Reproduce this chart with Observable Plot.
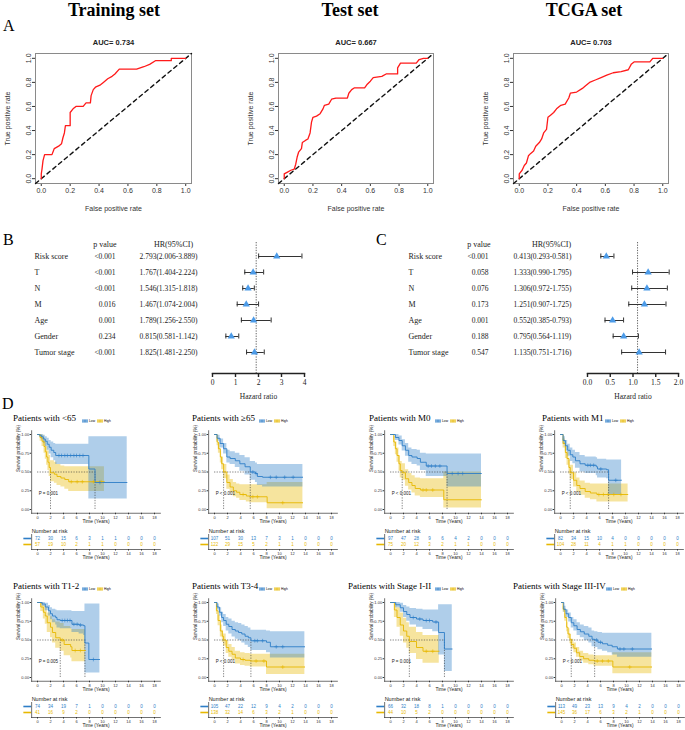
<!DOCTYPE html>
<html><head><meta charset="utf-8">
<script src="https://cdn.jsdelivr.net/npm/d3@7"></script>
<script src="https://cdn.jsdelivr.net/npm/@observablehq/plot@0.6"></script>
<style>
body{margin:0;background:#fff}
#fig{position:relative;width:685px;height:730px;overflow:hidden;background:#fff}
</style></head><body><div id="fig"></div>
<script>
// ================= DATA =================
// ROC curves: [false positive rate, true positive rate]
const rocTitles = ["Training set", "Test set", "TCGA set"];
const rocAUC = [0.734, 0.667, 0.703];
const rocTicks = [0, 0.2, 0.4, 0.6, 0.8, 1];
const rocTraining = [[0,0],[0,0.04],[0.005,0.08],[0.012,0.15],[0.023,0.2],[0.074,0.2],[0.09,0.25],[0.12,0.27],[0.14,0.29],[0.15,0.34],[0.16,0.38],[0.167,0.44],[0.2,0.44],[0.2,0.55],[0.22,0.58],[0.24,0.6],[0.29,0.6],[0.31,0.63],[0.34,0.63],[0.345,0.69],[0.36,0.74],[0.375,0.76],[0.41,0.78],[0.43,0.8],[0.46,0.83],[0.49,0.85],[0.51,0.87],[0.54,0.91],[0.66,0.91],[0.71,0.93],[0.75,0.95],[0.79,0.98],[0.9,0.98],[0.9,1],[1,1]];
const rocTest = [[0,0],[0,0.04],[0.023,0.055],[0.046,0.07],[0.07,0.08],[0.08,0.12],[0.09,0.18],[0.1,0.22],[0.12,0.25],[0.126,0.3],[0.15,0.32],[0.165,0.33],[0.18,0.38],[0.19,0.47],[0.2,0.51],[0.225,0.52],[0.25,0.54],[0.27,0.58],[0.28,0.61],[0.31,0.62],[0.33,0.66],[0.36,0.67],[0.44,0.67],[0.45,0.71],[0.47,0.74],[0.49,0.755],[0.56,0.755],[0.575,0.78],[0.6,0.81],[0.62,0.84],[0.68,0.85],[0.71,0.87],[0.79,0.87],[0.79,0.92],[0.81,0.96],[0.92,0.96],[0.94,0.99],[0.97,1],[1,1]];
const rocTCGA = [[0,0],[0,0.04],[0.02,0.07],[0.035,0.11],[0.05,0.13],[0.064,0.19],[0.08,0.21],[0.1,0.23],[0.115,0.27],[0.14,0.3],[0.156,0.33],[0.17,0.38],[0.19,0.41],[0.2,0.51],[0.22,0.53],[0.24,0.55],[0.26,0.58],[0.29,0.61],[0.32,0.62],[0.345,0.67],[0.356,0.71],[0.4,0.72],[0.44,0.75],[0.46,0.77],[0.49,0.8],[0.53,0.82],[0.57,0.84],[0.61,0.86],[0.655,0.88],[0.71,0.89],[0.76,0.905],[0.78,0.95],[0.8,0.97],[0.91,0.97],[0.93,1],[1,1]];

// Forest plots
const forestVars = ["Risk score", "T", "N", "M", "Age", "Gender", "Tumor stage"];
const uniP  = ["<0.001", "<0.001", "<0.001", "0.016", "0.001", "0.234", "<0.001"];
const uniHR = [2.793, 1.767, 1.546, 1.467, 1.789, 0.815, 1.825];
const uniLo = [2.006, 1.404, 1.315, 1.074, 1.256, 0.581, 1.481];
const uniHi = [3.889, 2.224, 1.818, 2.004, 2.550, 1.142, 2.250];
const uniRef = 1.9;
const uniTicks = [0, 1, 2, 3, 4];
const multiP  = ["<0.001", "0.058", "0.076", "0.173", "0.001", "0.188", "0.547"];
const multiHR = [0.413, 1.333, 1.306, 1.251, 0.552, 0.795, 1.135];
const multiLo = [0.293, 0.990, 0.972, 0.907, 0.385, 0.564, 0.751];
const multiHi = [0.581, 1.795, 1.755, 1.725, 0.793, 1.119, 1.716];
const multiRef = 1.1;
const multiTicks = [0, 0.5, 1.0, 1.5, 2.0];

// Kaplan-Meier: [time, survival, lower CI, upper CI]
const kmGroups = ["Low", "High"];
const kmTimeTicks = [0, 2, 4, 6, 8, 10, 12, 14, 16, 18];
const kmSurvTicks = [0, 0.25, 0.5, 0.75, 1];

const lt65Low = [[0,1,1,1],[0.3,0.99,0.96,1],[0.6,0.97,0.93,1],[0.9,0.94,0.88,0.99],[1.2,0.91,0.84,0.97],[1.5,0.87,0.79,0.95],[1.8,0.83,0.74,0.92],[2.1,0.79,0.69,0.9],[2.5,0.76,0.65,0.88],[2.8,0.72,0.6,0.87],[7.9,0.54,0.14,0.97],[8.85,0.36,0.14,0.97],[13.8,0.36,0.14,0.97]];
const lt65High = [[0,1,1,1],[0.4,0.96,0.91,1],[0.7,0.91,0.84,0.99],[1.0,0.84,0.75,0.95],[1.2,0.77,0.67,0.9],[1.4,0.7,0.59,0.84],[1.6,0.63,0.52,0.78],[1.8,0.56,0.44,0.72],[2.0,0.49,0.37,0.65],[2.6,0.47,0.35,0.63],[3.0,0.44,0.32,0.6],[3.6,0.42,0.3,0.58],[4.2,0.4,0.27,0.57],[4.8,0.37,0.24,0.57],[10.3,0.37,0.24,0.57]];
const lt65LowCens = [3.3, 3.7, 4.2, 4.6, 5.1, 5.6, 6.0, 6.5, 7.0, 9.6];
const lt65HighCens = [5.2, 6.1, 6.9, 8.6, 9.8];
const lt65RiskLow = [72, 30, 15, 6, 3, 1, 1, 0, 0, 0];
const lt65RiskHigh = [57, 19, 10, 2, 1, 1, 0, 0, 0, 0];

const ge65Low = [[0,1,1,1],[0.4,0.95,0.91,0.99],[0.86,0.88,0.82,0.94],[1.4,0.81,0.74,0.88],[1.9,0.7,0.62,0.79],[2.4,0.68,0.6,0.77],[3.2,0.65,0.56,0.75],[3.9,0.61,0.51,0.72],[4.7,0.57,0.46,0.69],[5.5,0.5,0.39,0.64],[6.3,0.48,0.36,0.62],[6.6,0.44,0.32,0.6],[7.4,0.43,0.3,0.6],[13.6,0.43,0.3,0.6]];
const ge65High = [[0,1,1,1],[0.4,0.9,0.85,0.95],[0.6,0.81,0.75,0.88],[0.9,0.7,0.62,0.78],[1.1,0.61,0.53,0.7],[1.4,0.5,0.41,0.6],[1.9,0.36,0.27,0.46],[2.4,0.3,0.22,0.4],[2.9,0.25,0.17,0.36],[3.4,0.23,0.15,0.34],[3.9,0.2,0.12,0.33],[4.9,0.18,0.1,0.33],[5.4,0.17,0.09,0.33],[8.1,0.09,0.01,0.36],[13.6,0.09,0.01,0.36]];
const ge65LowCens = [5.9, 6.4, 8.6, 9.5, 10.8, 12.1];
const ge65HighCens = [4.4, 5.9, 6.6, 10.5];
const ge65RiskLow = [107, 51, 30, 13, 7, 3, 1, 0, 0, 0];
const ge65RiskHigh = [122, 29, 15, 5, 2, 1, 1, 0, 0, 0];

const m0Low = [[0,1,1,1],[0.75,0.96,0.92,1],[1.3,0.92,0.86,0.98],[1.8,0.85,0.78,0.93],[2.3,0.79,0.71,0.88],[2.8,0.72,0.63,0.82],[3.3,0.7,0.6,0.8],[4.1,0.68,0.58,0.79],[4.6,0.63,0.52,0.75],[5.5,0.58,0.44,0.74],[8.7,0.48,0.3,0.74],[14,0.48,0.3,0.74]];
const m0High = [[0,1,1,1],[0.5,0.9,0.84,0.97],[0.75,0.81,0.73,0.9],[1.0,0.72,0.63,0.82],[1.3,0.61,0.51,0.72],[1.5,0.52,0.42,0.64],[1.8,0.49,0.39,0.61],[2.3,0.41,0.31,0.53],[2.8,0.36,0.26,0.48],[3.3,0.32,0.22,0.45],[3.8,0.28,0.18,0.42],[4.6,0.26,0.16,0.41],[8.2,0.13,0.02,0.5],[14,0.13,0.02,0.5]];
const m0LowCens = [5.8, 6.3, 6.9, 7.6, 9.5, 10.4, 11.1];
const m0HighCens = [5.0, 5.5, 6.5];
const m0RiskLow = [97, 47, 28, 9, 6, 4, 2, 0, 0, 0];
const m0RiskHigh = [75, 20, 12, 3, 2, 1, 1, 0, 0, 0];

const m1Low = [[0,1,1,1],[0.4,0.92,0.87,0.97],[0.75,0.85,0.78,0.92],[1.1,0.79,0.71,0.87],[1.5,0.73,0.64,0.82],[1.9,0.7,0.61,0.79],[2.3,0.65,0.55,0.76],[3,0.61,0.5,0.72],[3.8,0.59,0.48,0.7],[5.5,0.57,0.45,0.69],[5.7,0.54,0.42,0.67],[7.1,0.53,0.41,0.66],[7.4,0.39,0.2,0.66],[9.4,0.39,0.2,0.66]];
const m1High = [[0,1,1,1],[0.4,0.88,0.82,0.94],[0.75,0.76,0.68,0.84],[1,0.68,0.59,0.77],[1.3,0.56,0.47,0.66],[1.5,0.49,0.4,0.59],[2,0.39,0.3,0.49],[2.5,0.32,0.23,0.42],[3,0.28,0.19,0.38],[3.8,0.24,0.15,0.35],[4.6,0.22,0.13,0.34],[5.6,0.2,0.1,0.34],[10.4,0.2,0.1,0.34]];
const m1LowCens = [4.2, 4.6, 5.1, 6.2, 8.5];
const m1HighCens = [5.9, 6.6, 7.3, 8.2, 9.3];
const m1RiskLow = [82, 34, 15, 10, 4, 0, 0, 0, 0, 0];
const m1RiskHigh = [104, 28, 11, 4, 1, 1, 0, 0, 0, 0];

const t12Low = [[0,1,1,1],[0.7,0.98,0.95,1],[1.2,0.94,0.89,0.99],[1.7,0.89,0.82,0.96],[2,0.85,0.77,0.93],[2.3,0.82,0.73,0.91],[2.8,0.8,0.7,0.9],[3,0.77,0.66,0.89],[3.5,0.76,0.65,0.89],[5.3,0.71,0.6,0.88],[6.4,0.7,0.58,0.88],[7.1,0.69,0.56,0.88],[7.3,0.46,0.06,0.98],[7.9,0.24,0.06,0.98],[9.6,0.24,0.06,0.98]];
const t12High = [[0,1,1,1],[0.5,0.94,0.88,1],[0.9,0.87,0.78,0.96],[1.2,0.82,0.71,0.93],[1.5,0.73,0.6,0.86],[2,0.67,0.53,0.81],[2.3,0.6,0.46,0.77],[2.8,0.53,0.39,0.74],[3.5,0.5,0.35,0.72],[4.1,0.44,0.29,0.68],[5.1,0.41,0.26,0.66],[5.3,0.36,0.21,0.64],[7.4,0.36,0.21,0.64]];
const t12LowCens = [3.8, 4.2, 4.6, 5.0, 5.6, 6.1, 6.6, 8.6];
const t12HighCens = [3.8, 5.8, 6.6];
const t12RiskLow = [74, 34, 19, 7, 1, 0, 0, 0, 0, 0];
const t12RiskHigh = [41, 16, 9, 2, 0, 0, 0, 0, 0, 0];

const t34Low = [[0,1,1,1],[0.4,0.94,0.9,0.98],[0.75,0.87,0.82,0.93],[1.1,0.8,0.73,0.87],[1.4,0.76,0.68,0.84],[1.8,0.71,0.62,0.8],[2.2,0.68,0.58,0.78],[2.7,0.64,0.54,0.75],[3.2,0.62,0.51,0.73],[3.7,0.6,0.49,0.72],[4.2,0.58,0.46,0.7],[4.7,0.55,0.43,0.68],[5.2,0.53,0.4,0.66],[5.6,0.49,0.36,0.63],[8,0.47,0.33,0.62],[8.6,0.41,0.26,0.61],[13.9,0.41,0.26,0.61]];
const t34High = [[0,1,1,1],[0.3,0.89,0.84,0.94],[0.55,0.76,0.69,0.83],[0.9,0.62,0.54,0.7],[1.2,0.55,0.47,0.63],[1.4,0.5,0.42,0.58],[1.8,0.4,0.32,0.49],[2.2,0.35,0.27,0.44],[2.7,0.31,0.23,0.4],[3.2,0.26,0.18,0.35],[4,0.24,0.16,0.33],[4.7,0.23,0.15,0.32],[5.5,0.22,0.14,0.31],[8,0.14,0.04,0.31],[13.9,0.14,0.04,0.31]];
const t34LowCens = [6.2, 6.6, 7.4, 9.5, 10.5];
const t34HighCens = [4.4, 6.4, 7.6, 10.5];
const t34RiskLow = [105, 47, 22, 12, 9, 4, 2, 0, 0, 0];
const t34RiskHigh = [138, 32, 14, 6, 3, 2, 1, 0, 0, 0];

const s12Low = [[0,1,1,1],[0.8,0.97,0.93,1],[1.5,0.93,0.87,0.99],[2,0.88,0.8,0.96],[2.5,0.84,0.75,0.94],[3,0.8,0.7,0.92],[4,0.78,0.67,0.91],[5,0.76,0.64,0.9],[6.5,0.74,0.61,0.9],[7.4,0.6,0.3,0.97],[8.3,0.38,0.08,0.97],[9.5,0.38,0.08,0.97]];
const s12High = [[0,1,1,1],[0.6,0.9,0.8,0.98],[1,0.8,0.67,0.93],[1.5,0.7,0.55,0.86],[2,0.62,0.46,0.79],[2.5,0.55,0.39,0.73],[2.9,0.48,0.32,0.67],[4,0.4,0.24,0.6],[5,0.35,0.19,0.56],[7.5,0.35,0.19,0.56]];
const s12LowCens = [3.5, 4.5, 5.5, 6.0, 7.0];
const s12HighCens = [5.5, 6.5];
const s12RiskLow = [66, 32, 18, 8, 1, 0, 0, 0, 0, 0];
const s12RiskHigh = [44, 10, 5, 2, 0, 0, 0, 0, 0, 0];

const s34Low = [[0,1,1,1],[0.35,0.91,0.87,0.95],[0.7,0.85,0.8,0.9],[1.1,0.8,0.74,0.86],[1.5,0.73,0.66,0.8],[1.9,0.69,0.62,0.77],[2.4,0.64,0.56,0.73],[2.9,0.61,0.53,0.7],[3.5,0.58,0.49,0.68],[4.2,0.55,0.46,0.66],[4.7,0.51,0.41,0.62],[5.1,0.5,0.4,0.61],[5.6,0.47,0.37,0.6],[6.3,0.45,0.35,0.59],[7.1,0.43,0.33,0.59],[7.8,0.41,0.3,0.59],[8.6,0.38,0.27,0.59],[13.9,0.38,0.27,0.59]];
const s34High = [[0,1,1,1],[0.25,0.91,0.87,0.95],[0.5,0.8,0.75,0.85],[0.8,0.67,0.61,0.73],[1,0.58,0.52,0.65],[1.3,0.51,0.45,0.58],[1.5,0.44,0.38,0.51],[1.9,0.39,0.33,0.46],[2.3,0.33,0.27,0.4],[2.8,0.28,0.22,0.35],[3.4,0.25,0.19,0.32],[4.2,0.23,0.17,0.3],[5,0.22,0.15,0.29],[7.9,0.14,0.05,0.33],[13.9,0.14,0.05,0.33]];
const s34LowCens = [5.4, 6.0, 9.0, 9.6, 10.9];
const s34HighCens = [5.5, 6.3, 7.2, 10.5];
const s34RiskLow = [113, 49, 23, 13, 9, 4, 2, 0, 0, 0];
const s34RiskHigh = [145, 36, 17, 6, 3, 2, 1, 0, 0, 0];

// ================= STYLE / HELPERS =================
const SANS = '"Liberation Sans", Arial, sans-serif';
const SERIF = '"Liberation Serif", "Times New Roman", serif';
const LOW = "#2E7EC7", HIGH = "#E7B800";
const colorOf = {Low: LOW, High: HIGH};
const fig = document.getElementById("fig");

function place(node, x, y) {
  node.style.position = "absolute";
  node.style.left = x + "px";
  node.style.top = y + "px";
  fig.appendChild(node);
  return node;
}
function label(text, x, y, o = {}) {
  const size = o.size || 10;
  const d = document.createElement("div");
  d.textContent = text;
  Object.assign(d.style, {fontSize: size + "px", fontFamily: o.family || SERIF, fontWeight: o.weight || "normal",
    lineHeight: "1", whiteSpace: "nowrap", color: o.color || "#000"});
  if (o.anchor === "middle") d.style.transform = "translateX(-50%)";
  place(d, x, y - 0.84 * size);
}

// ================= A: ROC =================
const ROC_DOMAIN = [-0.04, 1.04];
function rocPlot(pts, auc, left, mL, mR) {
  const p = Plot.plot({
    width: 200, height: 190, marginLeft: mL, marginRight: mR, marginTop: 23, marginBottom: 37,
    style: {fontFamily: SANS, fontSize: "7px", background: "transparent", overflow: "visible", color: "#333"},
    x: {domain: ROC_DOMAIN, ticks: rocTicks, tickFormat: d3.format(".1f"), label: "False positive rate",
        labelAnchor: "center", labelArrow: "none", labelOffset: 27, tickSize: 3, tickPadding: 2},
    y: {domain: ROC_DOMAIN, ticks: rocTicks, tickFormat: d3.format(".1f"), label: "True positive rate",
        labelAnchor: "center", labelArrow: "none", labelOffset: 30, tickSize: 3, tickPadding: 2, tickRotate: -90},
    marks: [
      Plot.frame({stroke: "#8a8a8a"}),
      Plot.line(ROC_DOMAIN, {x: d => d, y: d => d, stroke: "#111", strokeWidth: 1.4, strokeDasharray: "4,3.5"}),
      Plot.line(pts, {x: d => d[0], y: d => d[1], stroke: "#ff1a1a", strokeWidth: 1.3}),
      Plot.text([auc], {frameAnchor: "top", dy: -14, text: d => "AUC= " + d.toFixed(3), fontWeight: "bold", fontSize: 7.5, fill: "#222"})
    ]
  });
  place(p, left, 30);
}
rocPlot(rocTraining, rocAUC[0], 0, 35, 9);
rocPlot(rocTest, rocAUC[1], 240, 38, 7);
rocPlot(rocTCGA, rocAUC[2], 475, 38, 7);
label(rocTitles[0], 114, 16, {size: 18, weight: "bold", anchor: "middle"});
label(rocTitles[1], 350, 16, {size: 18, weight: "bold", anchor: "middle"});
label(rocTitles[2], 584, 16, {size: 18, weight: "bold", anchor: "middle"});
label("A", 3, 31, {size: 16});

// ================= B / C: forest =================
function forestPlot(p, hr, lo, hi, ref, o) {
  const rows = forestVars.map((v, i) => ({v, p: p[i], hr: hr[i], lo: lo[i], hi: hi[i]}));
  const H = 178, top = 225;
  const y0 = 255 - top, y6 = 352 - top, step = (y6 - y0) / 6;
  const inset = step / 2 - 2.6;
  const pl = Plot.plot({
    width: o.width, height: H, marginLeft: o.mL, marginRight: o.mR, marginTop: 17, marginBottom: H - 148,
    style: {fontFamily: SERIF, fontSize: "7.5px", background: "transparent", overflow: "visible", color: "#222"},
    x: {domain: o.domain},
    y: {type: "band", domain: forestVars, range: [y0 - step / 2, y6 + step / 2], padding: 0, axis: null},
    marks: [
      Plot.ruleX([ref], {stroke: "#666", strokeDasharray: "1.3,1.3", strokeWidth: 1}),
      Plot.ruleY(rows, {y: "v", x1: "lo", x2: "hi", stroke: "#333", strokeWidth: 1}),
      Plot.tickX(rows, {x: "lo", y: "v", insetTop: inset, insetBottom: inset, stroke: "#333", strokeWidth: 1}),
      Plot.tickX(rows, {x: "hi", y: "v", insetTop: inset, insetBottom: inset, stroke: "#333", strokeWidth: 1}),
      Plot.dot(rows, {x: "hr", y: "v", symbol: "triangle", r: 2.7, fill: "#4c9be8", stroke: "none"}),
      Plot.text(rows, {y: "v", frameAnchor: "left", dx: o.cLabel, text: "v", textAnchor: "start", fontSize: 8}),
      Plot.text(rows, {y: "v", frameAnchor: "left", dx: o.cP, text: "p", textAnchor: "end"}),
      Plot.text(rows, {y: "v", frameAnchor: "left", dx: o.cHR, textAnchor: "start",
        text: d => `${d.hr.toFixed(3)}(${d.lo.toFixed(3)}-${d.hi.toFixed(3)})`}),
      Plot.text(["p value"], {frameAnchor: "top-left", dx: o.cPHead, dy: -1, textAnchor: "end", fontSize: 8}),
      Plot.text(["HR(95%CI)"], {frameAnchor: "top-left", dx: o.cHRHead, dy: -1, textAnchor: "middle", fontSize: 8}),
      Plot.frame({anchor: "bottom", strokeWidth: 1.4, stroke: "#222"}),
      Plot.axisX({ticks: o.ticks, tickFormat: o.fmt, tickSize: 4, tickPadding: 2, strokeWidth: 1.4, stroke: "#222",
        label: "Hazard ratio", labelAnchor: "center", labelArrow: "none", labelOffset: 25, fontSize: 7.5})
    ]
  });
  place(pl, o.left, top);
}
forestPlot(uniP, uniHR, uniLo, uniHi, uniRef, {left: 0, width: 340, mL: 212, mR: 36, domain: [0, 4], ticks: uniTicks,
  fmt: d3.format("d"), cLabel: -178, cP: -97, cHR: -73, cPHead: -96, cHRHead: -39});
forestPlot(multiP, multiHR, multiLo, multiHi, multiRef, {left: 340, width: 345, mL: 247, mR: 7, domain: [0, 2], ticks: multiTicks,
  fmt: d3.format(".1f"), cLabel: -179, cP: -99, cHR: -74, cPHead: -97, cHRHead: -36});
label("B", 3, 245, {size: 16});
label("C", 376, 245, {size: 16});
label("D", 2, 409, {size: 16});

// ================= D: Kaplan-Meier =================
const KM_X = [-0.9, 18.9], KM_Y = [-0.05, 1.05], PX = 6.5;
function stepAt(data, t) { let s = data[0][1]; for (const d of data) if (d[0] <= t) s = d[1]; return s; }
function medianOf(data) { const d = data.find(d => d[1] <= 0.5); return d ? d[0] : null; }

function legendKey(x, y) {
  const d = document.createElement("div");
  d.innerHTML = `<svg width="34" height="6" style="overflow:visible;display:block">
    <rect x="0" y="1" width="6" height="4" fill="${LOW}" fill-opacity="0.4"/>
    <line x1="0" y1="3" x2="6" y2="3" stroke="${LOW}" stroke-width="0.8"/>
    <line x1="3" y1="1.8" x2="3" y2="4.2" stroke="${LOW}" stroke-width="0.6"/>
    <text x="7" y="4.2" font-size="3.3" font-family='Liberation Sans'>Low</text>
    <rect x="15" y="1" width="6" height="4" fill="${HIGH}" fill-opacity="0.4"/>
    <line x1="15" y1="3" x2="21" y2="3" stroke="${HIGH}" stroke-width="0.8"/>
    <line x1="18" y1="1.8" x2="18" y2="4.2" stroke="${HIGH}" stroke-width="0.6"/>
    <text x="22" y="4.2" font-size="3.3" font-family='Liberation Sans'>High</text></svg>`;
  place(d, x, y - 3);
}

function kmPanel(c) {
  const W = 180, left = c.x0 - 50;
  const mL = 50 - 0.9 * PX, mR = W - (50 + 18.9 * PX);
  const meds = [medianOf(c.low), medianOf(c.high)].filter(v => v != null);
  const medMax = d3.max(meds);
  const cens = (ts, data) => ts.map(t => ({t, s: stepAt(data, t)}));
  const band = (data, col) => Plot.areaY(data, {x: d => d[0], y1: d => d[2], y2: d => d[3], curve: "step-after", fill: col, fillOpacity: 0.38});
  const line = (data, col) => Plot.line(data, {x: d => d[0], y: d => d[1], curve: "step-after", stroke: col, strokeWidth: 0.9});
  const curves = Plot.plot({
    width: W, height: 100, marginLeft: mL, marginRight: mR, marginTop: 4.25, marginBottom: 13.25,
    style: {fontFamily: SANS, fontSize: "4px", background: "transparent", overflow: "visible", color: "#333"},
    x: {domain: KM_X}, y: {domain: KM_Y},
    marks: [
      band(c.high, HIGH), band(c.low, LOW),
      Plot.ruleY([0.5], {x1: 0, x2: medMax, stroke: "#333", strokeWidth: 0.6, strokeDasharray: "1.3,1.3"}),
      Plot.ruleX(meds, {y1: 0, y2: 0.5, stroke: "#333", strokeWidth: 0.6, strokeDasharray: "1.3,1.3"}),
      line(c.high, HIGH), line(c.low, LOW),
      Plot.dot(cens(c.highCens, c.high), {x: "t", y: "s", symbol: "plus", r: 1.3, stroke: HIGH, strokeWidth: 0.6}),
      Plot.dot(cens(c.lowCens, c.low), {x: "t", y: "s", symbol: "plus", r: 1.3, stroke: LOW, strokeWidth: 0.6}),
      Plot.text([c.p], {frameAnchor: "bottom-left", dx: 7, dy: -18.75, textAnchor: "start", fontSize: 4.5, fill: "#222"}),
      Plot.frame({anchor: "left", stroke: "#333", strokeWidth: 0.7}),
      Plot.frame({anchor: "bottom", stroke: "#333", strokeWidth: 0.7}),
      Plot.axisX({ticks: kmTimeTicks, tickSize: 1.5, tickPadding: 1, label: null, fontSize: 4}),
      Plot.axisY({ticks: kmSurvTicks, tickFormat: d3.format(".2f"), tickSize: 1.5, tickPadding: 1, label: null, fontSize: 4}),
      Plot.text(["Time (Years)"], {frameAnchor: "bottom", dy: 9.5, fontSize: 4.8, fill: "#222"}),
      Plot.text(["Survival probability (%)"], {frameAnchor: "left", dx: -13, rotate: -90, fontSize: 4.6, fill: "#222"})
    ]
  });
  place(curves, left, c.y1 - 8);

  const riskRows = [];
  kmTimeTicks.forEach((t, i) => {
    riskRows.push({t, g: "Low", n: c.riskLow[i]});
    riskRows.push({t, g: "High", n: c.riskHigh[i]});
  });
  const table = Plot.plot({
    width: W, height: 42, marginLeft: mL, marginRight: mR, marginTop: 12, marginBottom: 15,
    style: {fontFamily: SANS, fontSize: "4px", background: "transparent", overflow: "visible", color: "#333"},
    x: {domain: KM_X},
    y: {type: "band", domain: kmGroups, range: [12.75, 25.75], padding: 0, axis: null},
    marks: [
      Plot.text(riskRows, {x: "t", y: "g", text: "n", fill: d => colorOf[d.g], fontSize: 4.5}),
      Plot.ruleY(kmGroups, {y: d => d, x1: KM_X[0] - 1.2, x2: KM_X[0], stroke: d => colorOf[d], strokeWidth: 1.6}),
      Plot.frame({anchor: "left", stroke: "#333", strokeWidth: 0.7}),
      Plot.frame({anchor: "bottom", stroke: "#333", strokeWidth: 0.7}),
      Plot.axisX({ticks: kmTimeTicks, tickSize: 1.5, tickPadding: 1, label: null, fontSize: 4}),
      Plot.text(["Number at risk"], {frameAnchor: "top-left", dy: -5, textAnchor: "start", fontSize: 5.5, fill: "#222"}),
      Plot.text(["Time (Years)"], {frameAnchor: "bottom", dy: 9, fontSize: 4.8, fill: "#222"})
    ]
  });
  place(table, left, c.y1 + 88);

  label(c.title, c.titleX, c.y1 - 12.5, {size: 9});
  legendKey(c.x0 + 45, c.y1 - 13);
}

const kmPanels = [
  {title: "Patients with <65", titleX: 13, x0: 37, y1: 434, low: lt65Low, high: lt65High, lowCens: lt65LowCens, highCens: lt65HighCens, p: "P = 0.001", riskLow: lt65RiskLow, riskHigh: lt65RiskHigh},
  {title: "Patients with \u226565", titleX: 192, x0: 214, y1: 434, low: ge65Low, high: ge65High, lowCens: ge65LowCens, highCens: ge65HighCens, p: "P < 0.001", riskLow: ge65RiskLow, riskHigh: ge65RiskHigh},
  {title: "Patients with M0", titleX: 369, x0: 390, y1: 434, low: m0Low, high: m0High, lowCens: m0LowCens, highCens: m0HighCens, p: "P < 0.001", riskLow: m0RiskLow, riskHigh: m0RiskHigh},
  {title: "Patients with M1", titleX: 542, x0: 560, y1: 434, low: m1Low, high: m1High, lowCens: m1LowCens, highCens: m1HighCens, p: "P < 0.001", riskLow: m1RiskLow, riskHigh: m1RiskHigh},
  {title: "Patients with T1-2", titleX: 13, x0: 37, y1: 602, low: t12Low, high: t12High, lowCens: t12LowCens, highCens: t12HighCens, p: "P = 0.005", riskLow: t12RiskLow, riskHigh: t12RiskHigh},
  {title: "Patients with T3-4", titleX: 192, x0: 214, y1: 602, low: t34Low, high: t34High, lowCens: t34LowCens, highCens: t34HighCens, p: "P < 0.001", riskLow: t34RiskLow, riskHigh: t34RiskHigh},
  {title: "Patients with Stage I-II", titleX: 348, x0: 390, y1: 602, low: s12Low, high: s12High, lowCens: s12LowCens, highCens: s12HighCens, p: "P = 0.001", riskLow: s12RiskLow, riskHigh: s12RiskHigh},
  {title: "Patients with Stage III-IV", titleX: 513, x0: 561, y1: 602, low: s34Low, high: s34High, lowCens: s34LowCens, highCens: s34HighCens, p: "P < 0.001", riskLow: s34RiskLow, riskHigh: s34RiskHigh}
];
kmPanels.forEach(kmPanel);
</script></body></html>
